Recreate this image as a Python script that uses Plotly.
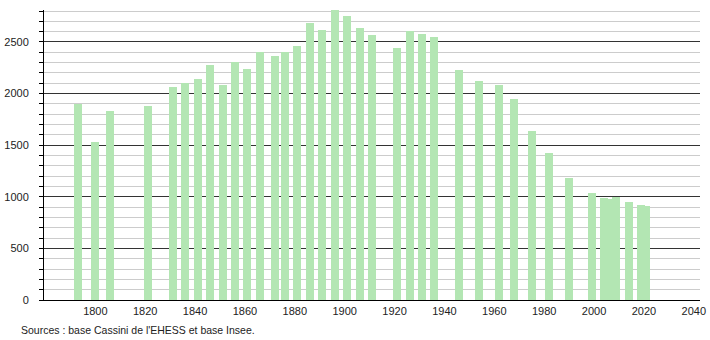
import plotly.graph_objects as go

years = [1793, 1800, 1806, 1821, 1831, 1836, 1841, 1846, 1851, 1856, 1861, 1866,
         1872, 1876, 1881, 1886, 1891, 1896, 1901, 1906, 1911, 1921, 1926, 1931,
         1936, 1946, 1954, 1962, 1968, 1975, 1982, 1990, 1999, 2004, 2006, 2009,
         2014, 2019, 2021]
population = [1898, 1533, 1834, 1882, 2067, 2102, 2144, 2280, 2083, 2303, 2241, 2403,
              2367, 2403, 2464, 2688, 2620, 2807, 2755, 2639, 2571, 2445, 2603, 2581,
              2552, 2232, 2125, 2086, 1950, 1640, 1426, 1184, 1038, 990, 975, 998,
              951, 922, 912]
x_ticks = [1800, 1820, 1840, 1860, 1880, 1900, 1920, 1940, 1960, 1980, 2000, 2020, 2040]
y_ticks = [0, 500, 1000, 1500, 2000, 2500]
source_note = "Sources : base Cassini de l'EHESS et base Insee."

L, R, T, B = 44, 10, 10, 40
PW, PH = 710 - L - R, 340 - T - B

fig = go.Figure()
fig.add_trace(go.Bar(
    x=years, y=population, width=3.2,
    marker=dict(color="#b3e6b3", line=dict(width=0)),
    hoverinfo="x+y",
))

font = dict(family="Liberation Sans, Arial, sans-serif", size=11, color="#222222")

fig.update_layout(
    width=710, height=340,
    margin=dict(l=L, r=R, t=T, b=B, autoexpand=False),
    paper_bgcolor="white", plot_bgcolor="white",
    showlegend=False,
    font=font,
    bargap=0,
    xaxis=dict(
        range=[1779.4, 2042.5],
        tickvals=x_ticks, ticktext=[str(v) for v in x_ticks],
        showgrid=False, zeroline=False, automargin=False,
        showline=True, linecolor="#000000", linewidth=1,
        ticks="", ticklabelstandoff=1,
        tickfont=font,
    ),
    yaxis=dict(
        range=[0, 2810],
        tickvals=y_ticks, ticktext=[str(v) for v in y_ticks],
        showgrid=True, gridcolor="#333333", gridwidth=1,
        zeroline=False, automargin=False,
        showline=True, linecolor="#000000", linewidth=1,
        ticks="outside", ticklen=4, tickcolor="#000000",
        ticklabelstandoff=8,
        tickfont=font,
        minor=dict(dtick=100, tick0=0, showgrid=True, gridcolor="#cccccc",
                   gridwidth=1, ticks="outside", ticklen=4, tickcolor="#000000"),
    ),
)

fig.add_annotation(
    text=source_note, xref="paper", yref="paper",
    x=(19 - L) / PW, y=-30 / PH, xanchor="left", yanchor="middle",
    showarrow=False,
    font=dict(family="Liberation Sans, Arial, sans-serif", size=10.5, color="#222222"),
)

fig.write_html("out.html")
